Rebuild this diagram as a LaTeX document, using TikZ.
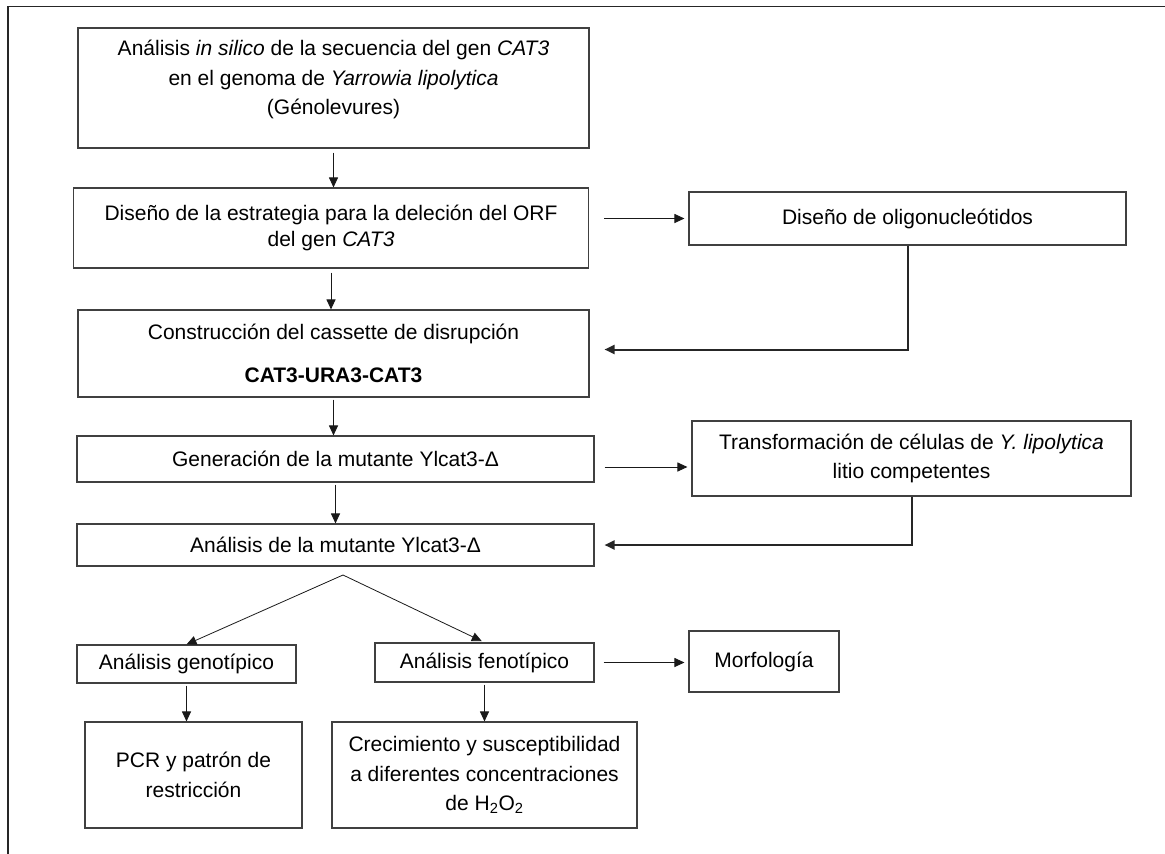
\documentclass[tikz,border=0pt]{standalone}
\usepackage{fontspec}
\setmainfont{Liberation Sans}
\usetikzlibrary{arrows.meta}

\begin{document}
\begin{tikzpicture}[x=1pt,y=-1pt]
\tikzset{caja/.style={draw=black!75,line width=1.1pt,align=center,inner sep=0pt,font=\fontsize{21}{29.5}\selectfont}}
\tikzset{flecha/.style={->,black!90,line width=1pt}}
\tikzset{retorno/.style={->,black!85,line width=2pt}}
\tikzset{>={Triangle[length=10pt,width=9pt]}}
\useasboundingbox (0,0) rectangle (1165,854);
\draw[black!85,line width=1.5pt] (1165,6.5) -- (8,6.5) -- (8,854);

\node (b1) at (333.5,88) [caja,minimum width=511,minimum height=120] {An\'alisis \emph{in silico} de la secuencia del gen \emph{CAT3}\\ en el genoma de \emph{Yarrowia lipolytica}\\ (G\'enolevures)\\[-9pt]\mbox{}};
\node (b2) at (331,228) [caja,minimum width=515,minimum height=80] {Dise\~no de la estrategia para la deleci\'on del ORF\\[-3pt] del gen \emph{CAT3}};
\node (b3) at (333.5,353.5) [caja,minimum width=511,minimum height=87] {Construcci\'on del cassette de disrupci\'on\\[14pt] \textbf{CAT3-URA3-CAT3}};
\node (b4) at (335.5,459) [caja,minimum width=517,minimum height=46] {Generaci\'on de la mutante Ylcat3-Δ};
\node (b5) at (335.5,545) [caja,minimum width=517,minimum height=42] {An\'alisis de la mutante Ylcat3-Δ};
\node (oligo) at (907.5,218.5) [caja,minimum width=437,minimum height=53] {Dise\~no de oligonucle\'otidos};
\node (transf) at (911.5,458.5) [caja,minimum width=439,minimum height=75] {Transformaci\'on de c\'elulas de \emph{Y. lipolytica}\\ litio competentes};
\coordinate (split) at (343,575);
\node (geno) at (186.5,664) [caja,minimum width=219,minimum height=38] {An\'alisis genot\'ipico};
\node (feno) at (484.5,662.5) [caja,minimum width=219,minimum height=39] {An\'alisis fenot\'ipico};
\node (morf) at (764,661.5) [caja,minimum width=150,minimum height=61] {Morfolog\'ia};
\node (pcr) at (193.5,775) [caja,minimum width=217,minimum height=106] {PCR y patr\'on de\\ restricci\'on};
\node (crec) at (484.5,775) [caja,minimum width=305,minimum height=106] {Crecimiento y susceptibilidad\\ a diferentes concentraciones\\ de H\textsubscript{2}O\textsubscript{2}};

% flujo principal
\draw[flecha,shorten <=4pt] (b1.south) -- (b1.south |- b2.north);
\draw[flecha,shorten <=4pt] (b2.south) -- (b2.south |- b3.north);
\draw[flecha,shorten <=2pt] (b3.south) -- (b3.south |- b4.north);
\draw[flecha,shorten <=2pt] (b4.south) -- (b4.south |- b5.north);
\draw[flecha,line width=0.8pt] (split) -- (geno.north);
\draw[flecha,line width=0.8pt,shorten >=3pt] (split) -- (feno.north);
\draw[flecha,shorten <=2pt] (geno.south) -- (geno.south |- pcr.north);
\draw[flecha,shorten <=2pt] (feno.south) -- (feno.south |- crec.north);

% ramas laterales
\draw[flecha,shorten <=15pt,shorten >=4pt] (b2.east |- oligo.west) -- (oligo.west);
\draw[retorno,shorten >=15pt] (oligo.south) |- ([yshift=4pt]b3.east);
\draw[flecha,shorten <=10pt,shorten >=4pt] ([yshift=-8pt]b4.east) -- ([yshift=-8pt]b4.east -| transf.west);
\draw[retorno,shorten >=10pt] (transf.south) |- (b5.east);
\draw[flecha,shorten <=9pt,shorten >=4pt] (feno.east) -- (feno.east -| morf.west);
\end{tikzpicture}
\end{document}
